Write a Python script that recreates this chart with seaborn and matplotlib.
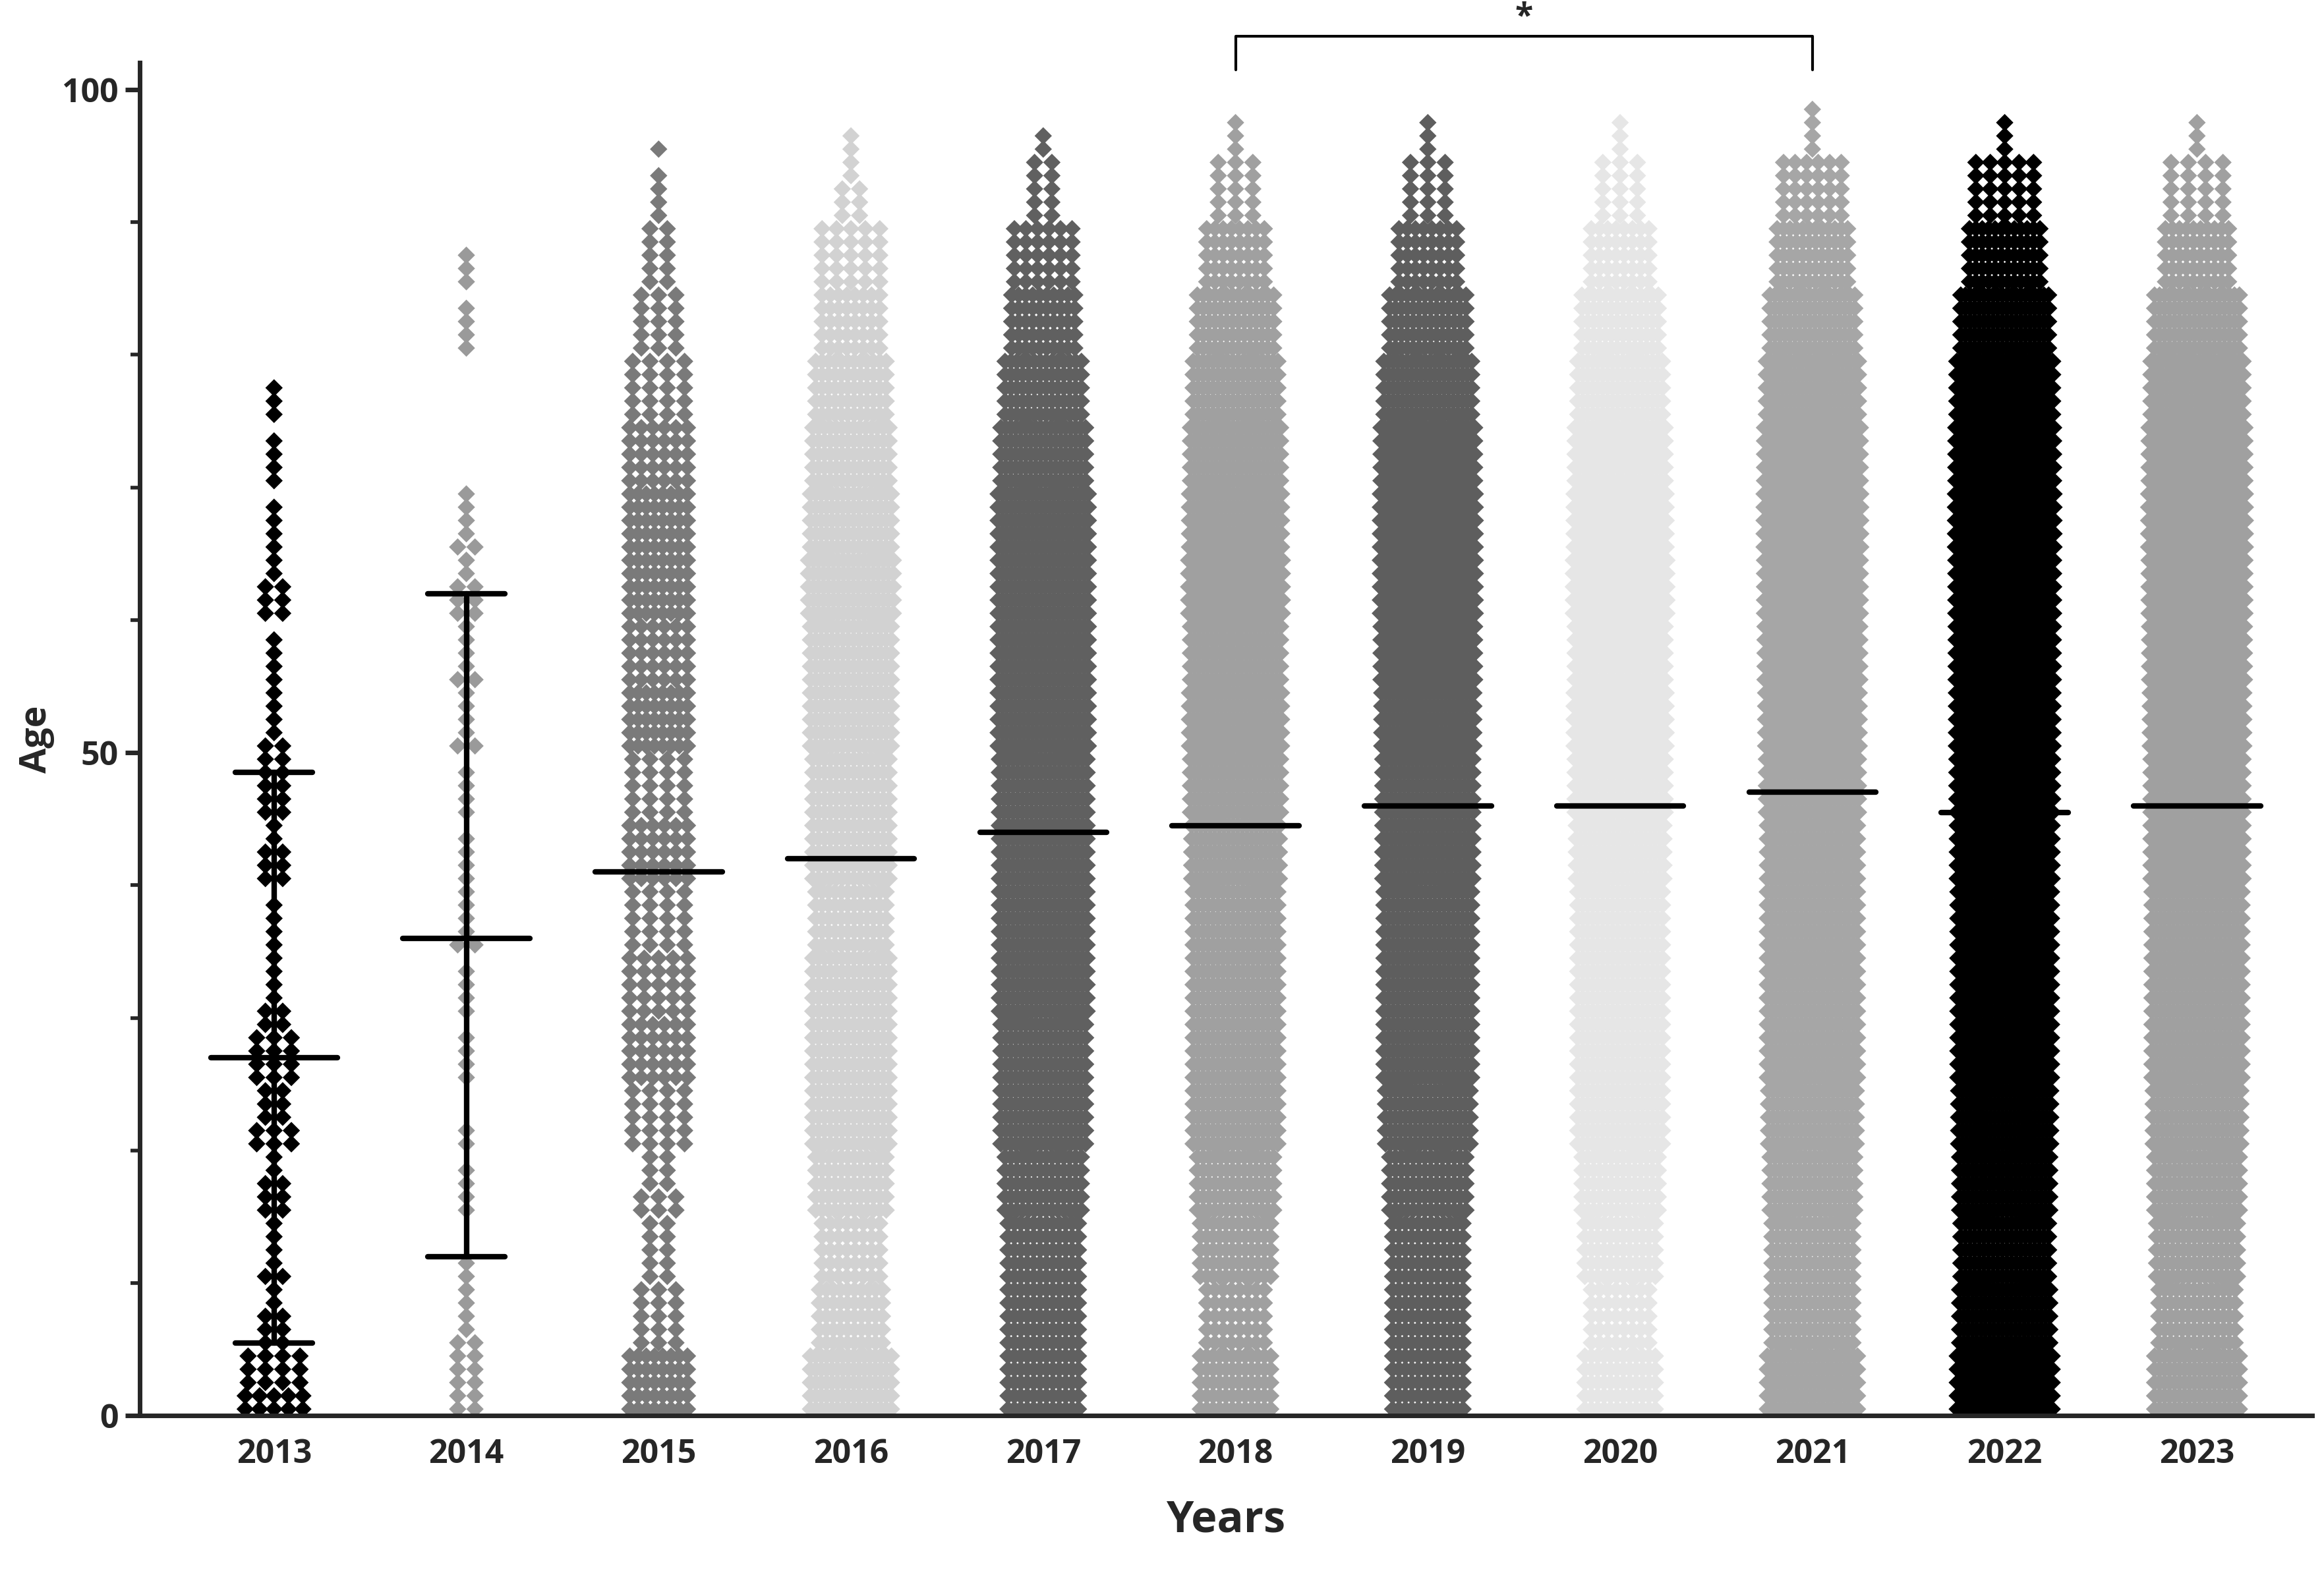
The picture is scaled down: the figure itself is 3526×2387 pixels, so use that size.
import numpy as np
import pandas as pd
import seaborn as sns
import matplotlib.pyplot as plt
from matplotlib.ticker import MultipleLocator

years = ["2013", "2014", "2015", "2016", "2017", "2018", "2019", "2020", "2021", "2022", "2023"]
c2013 = [22, 8, 6, 8, 12, 14, 6, 4, 8, 10, 6, 4, 8, 4, 4, 3, 0, 0, 0, 0]
c2014 = [10, 6, 2, 4, 2, 4, 4, 6, 4, 4, 6, 6, 8, 6, 0, 0, 4, 3, 0, 0]
c2015 = [40, 15, 10, 12, 20, 30, 25, 20, 30, 20, 40, 30, 40, 40, 30, 20, 15, 10, 4, 1]
c2016 = [80, 50, 40, 60, 70, 70, 70, 60, 70, 70, 80, 80, 90, 80, 70, 60, 40, 25, 8, 2]
c2017 = [60, 60, 60, 70, 90, 90, 100, 100, 100, 100, 110, 110, 110, 110, 90, 70, 50, 30, 10, 2]
c2018 = [60, 40, 60, 70, 90, 90, 90, 90, 100, 110, 120, 110, 130, 120, 110, 90, 70, 40, 15, 3]
c2019 = [60, 60, 60, 70, 90, 100, 100, 100, 110, 110, 120, 130, 140, 140, 130, 100, 70, 40, 15, 3]
c2020 = [60, 40, 60, 70, 90, 90, 90, 90, 100, 110, 120, 110, 130, 120, 110, 90, 70, 40, 15, 3]
c2021 = [110, 80, 80, 90, 100, 110, 110, 110, 110, 120, 130, 140, 150, 160, 150, 120, 90, 60, 30, 4]
c2022 = [140, 110, 100, 110, 120, 130, 130, 130, 140, 150, 160, 170, 180, 200, 180, 150, 100, 60, 25, 3]
c2023 = [90, 70, 80, 90, 100, 110, 110, 110, 120, 120, 130, 140, 150, 160, 150, 120, 90, 50, 20, 3]
counts = [c2013, c2014, c2015, c2016, c2017, c2018, c2019, c2020, c2021, c2022, c2023]

means = [27, 36, 41, 42, 44, 44.5, 46, 46, 47, 45.5, 46]
sd_low = {0: 5.5, 1: 12}
sd_high = {0: 48.5, 1: 62}
colors = ["#000000", "#9a9a9a", "#7a7a7a", "#d2d2d2", "#606060", "#a0a0a0",
          "#5e5e5e", "#e6e6e6", "#a6a6a6", "#000000", "#a0a0a0"]

# build swarm-like layout: each age row spread horizontally
rows = []
for i, (yr, cs) in enumerate(zip(years, counts)):
    for b, n in enumerate(cs):
        per = [n // 5 + (1 if k < n % 5 else 0) for k in range(5)]
        for k, m in enumerate(per):
            if m == 0:
                continue
            age = b * 5 + k + 0.5
            w = max(min((m - 1) * 0.045, 0.15), 0.26 * (1 - np.exp(-(m - 1) / 9)))
            for off in np.linspace(-w, w, m):
                rows.append({"x": i + off, "age": age, "year": yr})
df = pd.DataFrame(rows)

sns.set_style("ticks")
plt.rcParams["font.family"] = ["Open Sans", "DejaVu Sans"]
fig, ax = plt.subplots(figsize=(17.63, 11.935), dpi=200)
sns.scatterplot(data=df, x="x", y="age", hue="year", palette=colors, marker="D",
                s=45, linewidth=0, legend=False, ax=ax)

for i, m in enumerate(means):
    ax.plot([i - 0.33, i + 0.33], [m, m], color="black", lw=3, zorder=5)
    if i in sd_low:
        ax.plot([i, i], [sd_low[i], sd_high[i]], color="black", lw=3, zorder=5)
        for v in (sd_low[i], sd_high[i]):
            ax.plot([i - 0.2, i + 0.2], [v, v], color="black", lw=3, zorder=5)

# significance bracket 2018 vs 2021
ax.plot([5, 5, 8, 8], [101.5, 104, 104, 101.5], color="black", lw=1.5, clip_on=False)
ax.text(6.5, 104.2, "*", ha="center", va="bottom", fontsize=18, fontweight="bold")

ax.set_xlim(-0.7, 10.6)
ax.set_ylim(0, 102)
ax.set_yticks([0, 50, 100])
ax.yaxis.set_minor_locator(MultipleLocator(10))
ax.set_xticks(range(len(years)))
ax.set_xticklabels(years)
for lab in ax.get_xticklabels() + ax.get_yticklabels():
    lab.set_fontweight("bold")
    lab.set_fontsize(18)
ax.tick_params(axis="both", which="major", width=2.5, length=8)
ax.tick_params(axis="y", which="minor", width=2, length=5)
ax.tick_params(axis="x", length=0, pad=12)
for s in ("left", "bottom"):
    ax.spines[s].set_linewidth(2.5)
sns.despine(ax=ax)
ax.set_xlabel("Years", fontsize=24, fontweight="bold", labelpad=15)
ax.set_ylabel("Age", fontsize=20, fontweight="bold")
plt.subplots_adjust(left=0.06, right=0.995, top=0.96, bottom=0.1)
plt.savefig("out.png", dpi=200)
